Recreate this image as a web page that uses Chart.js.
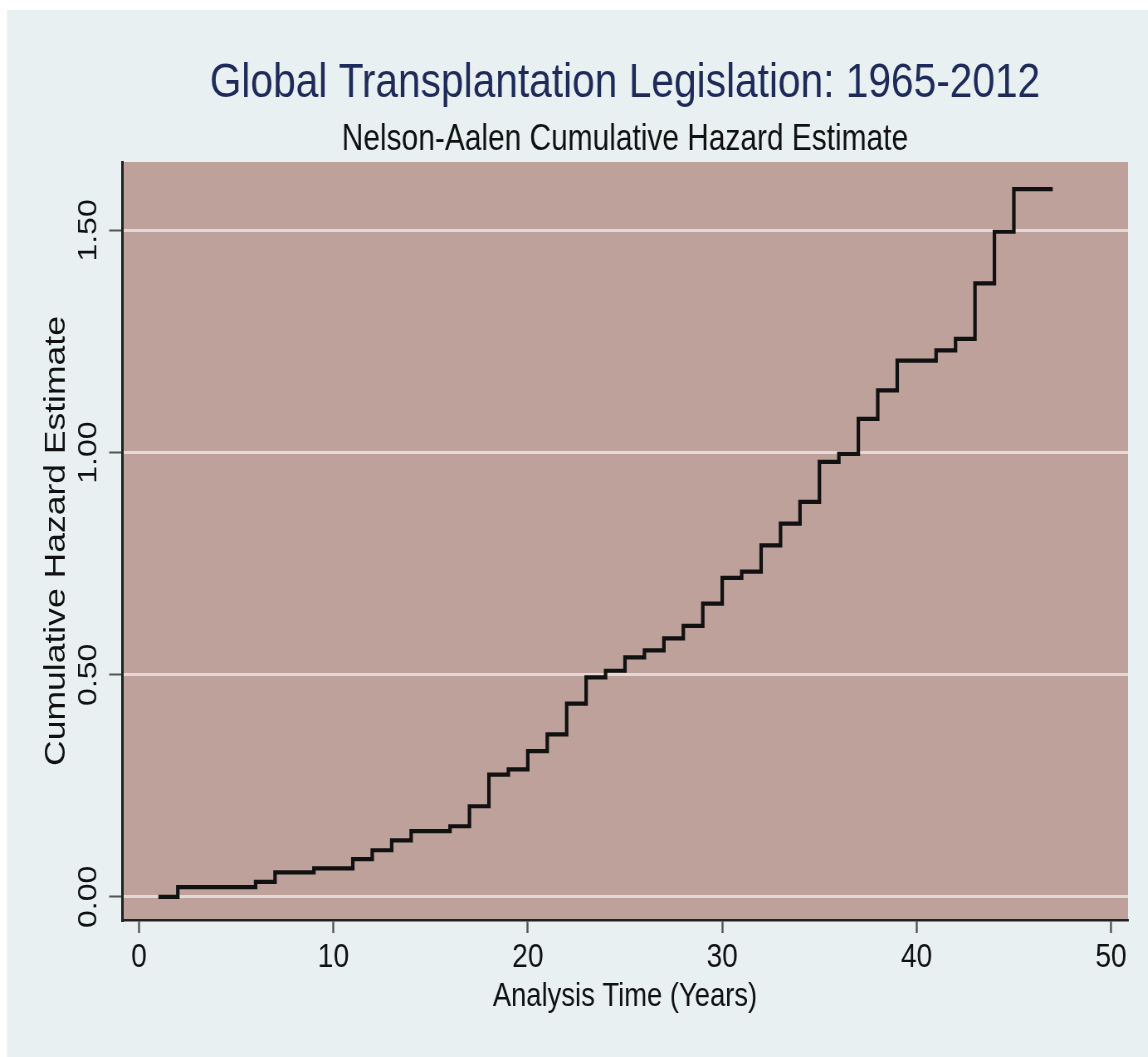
<!DOCTYPE html>
<html>
<head>
<meta charset="utf-8">
<title>Global Transplantation Legislation: 1965-2012</title>
<script src="https://cdn.jsdelivr.net/npm/chart.js@4.4.1/dist/chart.umd.min.js"></script>
<style>
  html, body { margin: 0; padding: 0; background: #ffffff; }
  #wrap { position: relative; width: 1148px; height: 1057px; overflow: hidden; }
  /* the graph is drawn on a wider canvas and shown horizontally condensed */
  canvas { display: block; transform: scaleX(0.83); transform-origin: 0 0; }
</style>
</head>
<body>
<div id="wrap"><canvas id="chart" width="1383" height="1057"></canvas></div>
<script>
// Nelson-Aalen cumulative hazard: analysis time (years) and estimate at each time
const analysisTime = [1, 2, 3, 5, 6, 7, 8, 9, 10, 11, 12, 13, 14, 16, 17, 18, 19, 20, 21, 22, 23, 24,
  25, 26, 27, 28, 29, 30, 31, 32, 33, 34, 35, 36, 37, 38, 39, 41, 42, 43, 44, 45, 47];
const cumHazard = [0.000, 0.022, 0.022, 0.022, 0.034, 0.055, 0.055, 0.064, 0.064, 0.085, 0.105, 0.127,
  0.148, 0.159, 0.204, 0.275, 0.287, 0.328, 0.366, 0.435, 0.494, 0.509, 0.539, 0.555, 0.582, 0.610,
  0.660, 0.718, 0.732, 0.791, 0.840, 0.889, 0.979, 0.997, 1.076, 1.140, 1.207, 1.230, 1.256, 1.381,
  1.497, 1.593, 1.593];

const xTicks = [0, 10, 20, 30, 40, 50];
const yTicks = [0, 0.5, 1.0, 1.5];

const titleText = 'Global Transplantation Legislation: 1965-2012';
const subtitleText = 'Nelson-Aalen Cumulative Hazard Estimate';
const xTitleText = 'Analysis Time (Years)';
const yTitleText = 'Cumulative Hazard Estimate';

const FONT = '"Liberation Sans", Arial, Helvetica, sans-serif';

// page backdrop and shaded plot region
const backdrop = {
  id: 'backdrop',
  beforeDraw(chart) {
    const { ctx, chartArea: a } = chart;
    ctx.save();
    ctx.fillStyle = '#ffffff';
    ctx.fillRect(0, 0, chart.width, chart.height);
    ctx.fillStyle = '#e8f0f2';
    ctx.fillRect(8.5, 10, chart.width, chart.height);
    ctx.fillStyle = '#bea19a';
    ctx.fillRect(a.left, a.top, a.right - a.left, a.bottom - a.top);
    ctx.restore();
  }
};

new Chart(document.getElementById('chart'), {
  type: 'line',
  data: {
    datasets: [{
      data: analysisTime.map((t, i) => ({ x: t, y: cumHazard[i] })),
      stepped: 'before',
      borderColor: '#111111',
      borderWidth: 4.2,
      pointRadius: 0,
      fill: false
    }]
  },
  options: {
    responsive: false,
    animation: false,
    layout: { padding: { left: 0, right: 24, top: 0, bottom: 0 } },
    plugins: {
      legend: { display: false },
      tooltip: { enabled: false },
      title: {
        display: true,
        fullSize: false,
        text: titleText,
        color: '#1e2b5a',
        font: { family: FONT, size: 49, weight: 'normal', lineHeight: 1.2 },
        padding: { top: 54, bottom: 0 }
      },
      subtitle: {
        display: true,
        fullSize: false,
        text: subtitleText,
        color: '#111111',
        font: { family: FONT, size: 36, weight: 'normal', lineHeight: 1.2 },
        padding: { top: 6, bottom: 0 }
      }
    },
    scales: {
      x: {
        type: 'linear',
        min: -0.87,
        max: 50.87,
        afterBuildTicks(scale) { scale.ticks = xTicks.map(v => ({ value: v })); },
        afterFit(scale) { scale.height = 137; },
        ticks: {
          color: '#111111',
          font: { family: FONT, size: 34 },
          padding: 4,
          maxRotation: 0,
          callback: v => String(v)
        },
        grid: {
          drawOnChartArea: false,
          drawTicks: true,
          tickLength: 13,
          tickColor: '#555555',
          tickWidth: 2.4
        },
        border: { display: true, color: '#222222', width: 2.5 },
        title: {
          display: true,
          text: xTitleText,
          color: '#111111',
          font: { family: FONT, size: 33, lineHeight: 1.2 },
          padding: { top: 0, bottom: 40 }
        }
      },
      y: {
        type: 'linear',
        min: -0.052,
        max: 1.654,
        afterBuildTicks(scale) { scale.ticks = yTicks.map(v => ({ value: v })); },
        afterFit(scale) { scale.width = 147; },
        ticks: {
          color: '#111111',
          font: { family: FONT, size: 32 },
          minRotation: 90,
          maxRotation: 90,
          crossAlign: 'center',
          padding: -7,
          callback: v => Number(v).toFixed(2)
        },
        grid: {
          color: '#e3dad7',
          lineWidth: 3,
          drawTicks: true,
          tickLength: 15.5,
          tickColor: '#555555',
          tickWidth: 2
        },
        border: { display: true, color: '#222222', width: 3 },
        title: {
          display: true,
          text: yTitleText,
          color: '#111111',
          font: { family: FONT, size: 35.5, lineHeight: 1.2 },
          padding: { top: 47, bottom: 0 }
        }
      }
    }
  },
  plugins: [backdrop]
});
</script>
</body>
</html>
